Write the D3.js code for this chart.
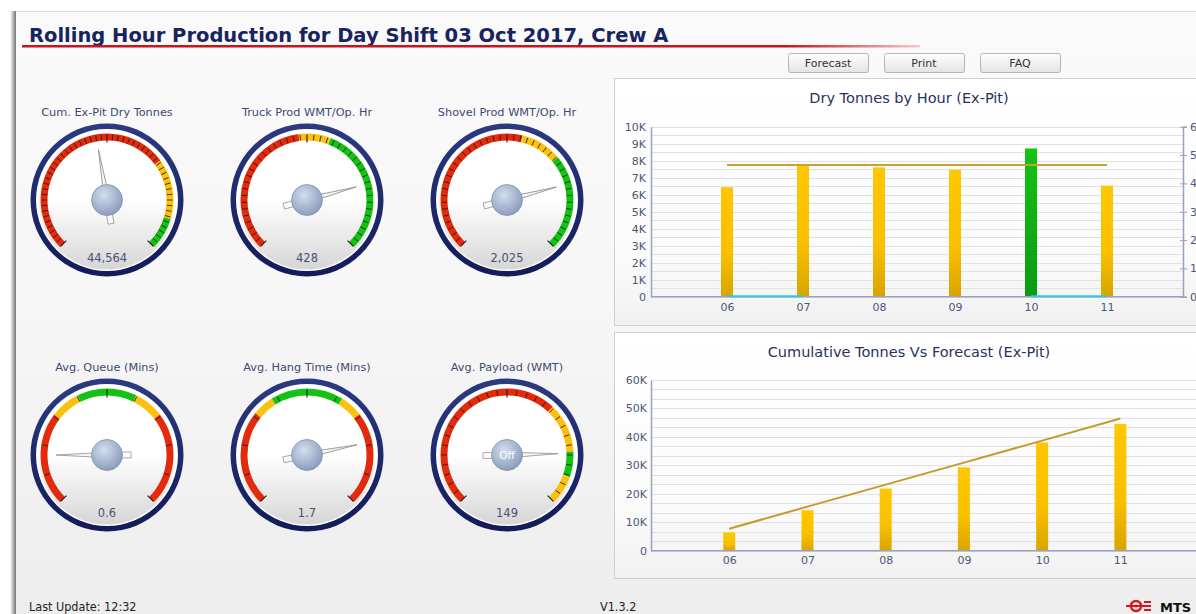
<!DOCTYPE html>
<html>
<head>
<meta charset="utf-8">
<script src="https://cdn.jsdelivr.net/npm/d3@7"></script>
<style>
  body { margin: 0; background: #ffffff; overflow: hidden; }
  svg { display: block; font-family: "DejaVu Sans", Verdana, sans-serif; }
</style>
</head>
<body>
<div class="chart"></div>
<script>
var svgWidth = 1196;
var svgHeight = 614;

// ---- gauge data ----
var gaugeTitles = ["Cum. Ex-Pit Dry Tonnes", "Truck Prod WMT/Op. Hr", "Shovel Prod WMT/Op. Hr",
  "Avg. Queue (Mins)", "Avg. Hang Time (Mins)", "Avg. Payload (WMT)"];
var gaugeValues = [44564, 428, 2025, 0.6, 1.7, 149];
var gaugeMin = [0, 0, 0, 0, 0, 0];
var gaugeMax = [96000, 550, 2600, 3.6, 2.15, 180];
// band thresholds (upper end of each band) and band status
var gaugeBandEnds = [
  [67000, 86000, 96000],
  [260, 318, 550],
  [1430, 1781, 2600],
  [1.1, 1.45, 2.15, 2.5, 3.6],
  [0.67, 0.82, 1.33, 1.49, 2.15],
  [119, 148, 163, 180]
];
var gaugeBandStatus = [
  ["bad", "warn", "good"],
  ["bad", "warn", "good"],
  ["bad", "warn", "good"],
  ["bad", "warn", "good", "warn", "bad"],
  ["bad", "warn", "good", "warn", "bad"],
  ["bad", "warn", "good", "warn"]
];
var gaugeTickCount = [54, 44, 44, 10, 10, 30];
var gaugeHubText = ["", "", "", "", "", "Off"];

// ---- chart data ----
var hours = ["06", "07", "08", "09", "10", "11"];
var hourTonnes = [6440, 7790, 7610, 7470, 8720, 6534];
var hourStatus = ["normal", "normal", "normal", "normal", "high", "normal"];
var hourTarget = [7740, 7740, 7740, 7740, 7740, 7740];
var hourUnits = [0, 0, null, null, 0, 0];
var cumTonnes = [6440, 14230, 21840, 29310, 38030, 44564];
var cumForecast = [7740, 15480, 23220, 30960, 38700, 46440];

var statusColor = d3.scaleOrdinal()
  .domain(["bad", "warn", "good"])
  .range(["#e42a0c", "#fbc10d", "#14c214"]);

var barFill = d3.scaleOrdinal()
  .domain(["normal", "high"])
  .range(["url(#barGold)", "url(#barGreen)"]);

var svg = d3.select(".chart")
  .append("svg")
  .attr("width", svgWidth)
  .attr("height", svgHeight);

var defs = svg.append("defs");

function linGrad(id, stops, x2, y2) {
  var g = defs.append("linearGradient").attr("id", id)
    .attr("x1", 0).attr("y1", 0).attr("x2", x2 || 0).attr("y2", y2 === undefined ? 1 : y2);
  stops.forEach(function(s) {
    g.append("stop").attr("offset", s[0]).attr("stop-color", s[1]);
  });
}
linGrad("pageBg", [[0, "#fafafa"], [0.5, "#f6f6f6"], [1, "#ededed"]]);
linGrad("panelBg", [[0, "#ffffff"], [0.7, "#fbfbfb"], [1, "#f1f1f1"]]);
linGrad("btnBg", [[0, "#fefefe"], [1, "#e4e4e4"]]);
linGrad("barGold", [[0, "#ffc700"], [0.6, "#f9c000"], [1, "#d9a400"]]);
linGrad("barGreen", [[0, "#14c414"], [1, "#0d9a14"]]);
linGrad("faceBg", [[0, "#ffffff"], [0.5, "#ffffff"], [1, "#d6d6d6"]]);
linGrad("ringBg", [[0, "#2c3a82"], [1, "#131b58"]]);
linGrad("shadowL", [[0, "rgba(0,0,0,0)"], [1, "rgba(0,0,0,0.55)"]], 1, 0);
linGrad("underline", [[0, "#c8141a"], [0.85, "#c8141a"], [1, "rgba(200,20,26,0.2)"]], 1, 0);

var hubGrad = defs.append("radialGradient").attr("id", "hubBg")
  .attr("cx", "40%").attr("cy", "35%").attr("r", "70%");
hubGrad.append("stop").attr("offset", 0).attr("stop-color", "#d3deee");
hubGrad.append("stop").attr("offset", 1).attr("stop-color", "#8799ba");

// ---- page frame ----
svg.append("rect")
  .attr("x", 10).attr("y", 11).attr("width", 6).attr("height", svgHeight)
  .attr("fill", "url(#shadowL)");
svg.append("rect")
  .attr("x", 16).attr("y", 11).attr("width", svgWidth).attr("height", svgHeight)
  .attr("fill", "url(#pageBg)");
svg.append("line")
  .attr("x1", 16).attr("x2", svgWidth).attr("y1", 11.5).attr("y2", 11.5)
  .attr("stroke", "#d8d8d8");

// title
svg.append("text")
  .attr("x", 29).attr("y", 42)
  .attr("font-size", "19.5px")
  .attr("font-weight", "bold")
  .attr("fill", "#18245e")
  .text("Rolling Hour Production for Day Shift 03 Oct 2017, Crew A");
svg.append("rect")
  .attr("x", 22).attr("y", 45).attr("width", 898).attr("height", 2.5)
  .attr("fill", "url(#underline)");

// buttons
var buttons = ["Forecast", "Print", "FAQ"];
var btn = svg.selectAll(".btn")
  .data(buttons)
  .enter()
  .append("g")
  .attr("class", "btn")
  .attr("transform", (d, i) => `translate(${788 + i * 96}, 53)`);
btn.append("rect")
  .attr("x", 0.5).attr("y", 0.5).attr("width", 80).attr("height", 19).attr("rx", 2)
  .attr("fill", "url(#btnBg)")
  .attr("stroke", "#b4b4b4");
btn.append("text")
  .attr("x", 40).attr("y", 14)
  .attr("text-anchor", "middle")
  .attr("font-size", "11px")
  .attr("fill", "#333")
  .text(d => d);

// ---- gauges ----
var gaugeCx = [107, 307, 507];
var gaugeCy = [200, 455];
var rad = Math.PI / 180;

function drawGauge(i) {
  var cx = gaugeCx[i % 3];
  var cy = gaugeCy[Math.floor(i / 3)];
  var angle = d3.scaleLinear()
    .domain([gaugeMin[i], gaugeMax[i]])
    .range([-135, 135])
    .clamp(true);

  var g = svg.append("g").attr("transform", `translate(${cx}, ${cy})`);

  svg.append("text")
    .attr("x", cx).attr("y", cy - 84)
    .attr("text-anchor", "middle")
    .attr("font-size", "11.3px")
    .attr("fill", "#3d4a72")
    .text(gaugeTitles[i]);

  g.append("circle").attr("r", 76.5).attr("fill", "url(#ringBg)");
  g.append("circle").attr("r", 71).attr("fill", "#ffffff");
  g.append("circle").attr("r", 69.5).attr("fill", "url(#faceBg)");

  // colour bands
  var arc = d3.arc().innerRadius(59.5).outerRadius(66.5);
  var starts = [gaugeMin[i]].concat(gaugeBandEnds[i].slice(0, -1));
  g.selectAll(".band")
    .data(gaugeBandEnds[i])
    .enter()
    .append("path")
    .attr("d", (d, j) => arc({ startAngle: angle(starts[j]) * rad, endAngle: angle(d) * rad }))
    .attr("fill", (d, j) => statusColor(gaugeBandStatus[i][j]));

  // ticks
  var n = gaugeTickCount[i];
  g.selectAll(".tick")
    .data(d3.range(n + 1))
    .enter()
    .append("line")
    .attr("x1", 0).attr("x2", 0)
    .attr("y1", k => (k % (n / 2) === 0 ? -57.5 : -60))
    .attr("y2", -65.5)
    .attr("transform", k => `rotate(${-135 + 270 * k / n})`)
    .attr("stroke", "#1a1a1a")
    .attr("stroke-width", k => (k % (n / 2) === 0 ? 1.1 : 0.8));

  // value
  g.append("text")
    .attr("y", 62)
    .attr("text-anchor", "middle")
    .attr("font-size", "11.5px")
    .attr("fill", "#4a5072")
    .text(d3.format(",")(gaugeValues[i]));

  // needle
  var needle = g.append("g")
    .attr("transform", `rotate(${angle(gaugeValues[i])})`);
  needle.append("rect")
    .attr("x", -3).attr("y", 13).attr("width", 6).attr("height", 11)
    .attr("fill", "#fafafa").attr("stroke", "#9a9a9a").attr("stroke-width", 0.8);
  needle.append("path")
    .attr("d", "M-3,4 L0,-51 L3,4 Z")
    .attr("fill", "#f6f6f6").attr("stroke", "#8e8e8e").attr("stroke-width", 0.8);

  g.append("circle")
    .attr("r", 15.5)
    .attr("fill", "url(#hubBg)")
    .attr("stroke", "#8394b4")
    .attr("stroke-width", 0.8);
  if (gaugeHubText[i]) {
    g.append("text")
      .attr("y", 4)
      .attr("text-anchor", "middle")
      .attr("font-size", "10.5px")
      .attr("fill", "#ffffff")
      .text(gaugeHubText[i]);
  }
}
gaugeTitles.forEach(function(t, i) { drawGauge(i); });

// ---- chart panels ----
function panel(y, h, title) {
  svg.append("rect")
    .attr("x", 614.5).attr("y", y + 0.5).attr("width", 600).attr("height", h)
    .attr("fill", "url(#panelBg)")
    .attr("stroke", "#cfcfcf");
  svg.append("text")
    .attr("x", 909).attr("y", y + 25)
    .attr("text-anchor", "middle")
    .attr("font-size", "14.5px")
    .attr("fill", "#27325e")
    .text(title);
}

function styleAxis(sel) {
  sel.select(".domain").attr("stroke", "#9ca1bd").attr("stroke-width", 1.5);
  sel.selectAll("text")
    .attr("fill", "#4d5779")
    .attr("font-size", "11px")
    .attr("font-family", "DejaVu Sans, Verdana, sans-serif");
  sel.selectAll(".tick line").attr("stroke", "#9ca1bd");
}

var kFormat = d => (d === 0 ? "0" : d / 1000 + "K");

// ---- Dry Tonnes by Hour ----
panel(78, 247, "Dry Tonnes by Hour (Ex-Pit)");

var plotA = { left: 651, right: 1183, top: 126.7, bottom: 296.7 };
var xTop = d3.scalePoint().domain(hours).range([plotA.left, plotA.right]).padding(1);
var yTop = d3.scaleLinear().domain([0, 10000]).range([plotA.bottom, plotA.top]);
var yTopR = d3.scaleLinear().domain([0, 6]).range([plotA.bottom, plotA.top]);

svg.append("g").selectAll("line")
  .data(d3.range(0, 10001, 500))
  .enter()
  .append("line")
  .attr("x1", plotA.left).attr("x2", plotA.right)
  .attr("y1", d => Math.round(yTop(d)) + 0.5).attr("y2", d => Math.round(yTop(d)) + 0.5)
  .attr("stroke", "#e1e1e4");

svg.selectAll(".barTop")
  .data(hourTonnes)
  .enter()
  .append("rect")
  .attr("x", (d, i) => xTop(hours[i]) - 6)
  .attr("y", d => yTop(d))
  .attr("width", 12)
  .attr("height", d => plotA.bottom - yTop(d))
  .attr("fill", (d, i) => barFill(hourStatus[i]));

svg.append("path")
  .datum(hourTarget)
  .attr("fill", "none")
  .attr("stroke", "#c9a230")
  .attr("stroke-width", 2)
  .attr("d", d3.line().x((d, i) => xTop(hours[i])).y(d => yTop(d)));

var axTopL = svg.append("g")
  .attr("transform", `translate(${plotA.left}, 0)`)
  .call(d3.axisLeft(yTop).tickValues(d3.range(0, 10001, 1000)).tickFormat(kFormat).tickSize(0).tickPadding(5));
styleAxis(axTopL);

var axTopR = svg.append("g")
  .attr("transform", `translate(${plotA.right}, 0)`)
  .call(d3.axisRight(yTopR).ticks(6).tickSize(4).tickPadding(3));
styleAxis(axTopR);
axTopR.selectAll(".tick line").attr("x1", -3);

var axTopB = svg.append("g")
  .attr("transform", `translate(0, ${plotA.bottom})`)
  .call(d3.axisBottom(xTop).tickSize(0).tickPadding(7));
axTopB.select(".domain").attr("d", `M${plotA.left},0H${plotA.right}`);
styleAxis(axTopB);

svg.append("path")
  .datum(hourUnits)
  .attr("fill", "none")
  .attr("stroke", "#2cc6f2")
  .attr("stroke-width", 2)
  .attr("d", d3.line().defined(d => d !== null).x((d, i) => xTop(hours[i])).y(d => yTopR(d) - 0.5));

// ---- Cumulative Tonnes Vs Forecast ----
panel(332, 246, "Cumulative Tonnes Vs Forecast (Ex-Pit)");

var plotB = { left: 651, right: 1198.6, top: 380, bottom: 550.7 };
var xBot = d3.scalePoint().domain(hours).range([plotB.left, plotB.right]).padding(1);
var yBot = d3.scaleLinear().domain([0, 60000]).range([plotB.bottom, plotB.top]);

svg.append("g").selectAll("line")
  .data(d3.range(19).map(k => k * 60000 / 18))
  .enter()
  .append("line")
  .attr("x1", plotB.left).attr("x2", svgWidth)
  .attr("y1", d => Math.round(yBot(d)) + 0.5).attr("y2", d => Math.round(yBot(d)) + 0.5)
  .attr("stroke", "#e1e1e4");

svg.selectAll(".barBot")
  .data(cumTonnes)
  .enter()
  .append("rect")
  .attr("x", (d, i) => xBot(hours[i]) - 6)
  .attr("y", d => yBot(d))
  .attr("width", 12)
  .attr("height", d => plotB.bottom - yBot(d))
  .attr("fill", "url(#barGold)");

svg.append("path")
  .datum(cumForecast)
  .attr("fill", "none")
  .attr("stroke", "#c39b2a")
  .attr("stroke-width", 2)
  .attr("d", d3.line().x((d, i) => xBot(hours[i])).y(d => yBot(d)));

var axBotL = svg.append("g")
  .attr("transform", `translate(${plotB.left}, 0)`)
  .call(d3.axisLeft(yBot).tickValues(d3.range(0, 60001, 10000)).tickFormat(kFormat).tickSize(0).tickPadding(4));
styleAxis(axBotL);

var axBotB = svg.append("g")
  .attr("transform", `translate(0, ${plotB.bottom})`)
  .call(d3.axisBottom(xBot).tickSize(0).tickPadding(6));
axBotB.select(".domain").attr("d", `M${plotB.left},0H${svgWidth}`);
styleAxis(axBotB);

// ---- footer ----
var footFont = "'Liberation Sans Narrow', 'DejaVu Sans Condensed', sans-serif";
svg.append("text")
  .attr("x", 29).attr("y", 611)
  .attr("font-size", "12.5px")
  .attr("font-family", footFont)
  .attr("fill", "#222")
  .text("Last Update: 12:32");
svg.append("text")
  .attr("x", 600).attr("y", 611)
  .attr("font-size", "12.5px")
  .attr("font-family", footFont)
  .attr("fill", "#222")
  .text("V1.3.2");

var logo = svg.append("g").attr("transform", "translate(1136, 606)");
logo.append("circle").attr("r", 5).attr("fill", "none").attr("stroke", "#d8141c").attr("stroke-width", 2.5);
logo.append("circle").attr("r", 1.5).attr("fill", "#d8141c");
logo.append("rect").attr("x", -10).attr("y", -1).attr("width", 20).attr("height", 2).attr("fill", "#d8141c");
logo.selectAll(".bar")
  .data([-4, 0, 4])
  .enter()
  .append("rect")
  .attr("x", 8).attr("y", d => d - 1).attr("width", 7).attr("height", 2)
  .attr("fill", "#d8141c");
svg.append("text")
  .attr("x", 1160).attr("y", 612)
  .attr("font-size", "13px")
  .attr("font-weight", "bold")
  .attr("fill", "#111")
  .text("MTS");
</script>
</body>
</html>
